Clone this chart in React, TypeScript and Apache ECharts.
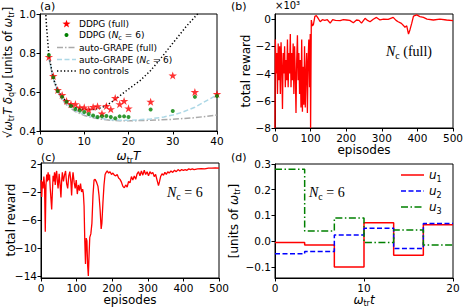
import React, { useEffect, useRef } from 'react';
import * as echarts from 'echarts';

// ---------- Panel (a) ----------
const A_T_DDPG = [2, 3, 4, 5, 6, 7, 8, 9, 10, 11, 12, 13, 14, 15, 16, 17, 18, 19, 20, 25, 30, 35, 40];
const A_DDPG_FULL = [0.78, 0.682, 0.61, 0.585, 0.554, 0.538, 0.538, 0.521, 0.521, 0.51, 0.523, 0.527, 0.49, 0.528, 0.512, 0.569, 0.538, 0.554, 0.516, 0.55, 0.685, 0.6, 0.59];
const A_DDPG_NC6 = [0.79, 0.675, 0.605, 0.575, 0.55, 0.528, 0.513, 0.505, 0.497, 0.487, 0.479, 0.472, 0.476, 0.477, 0.472, 0.465, 0.475, 0.475, 0.472, 0.51, 0.503, 0.575, 0.58];
const A_T_GRAPE_FULL = [2, 3, 4, 5, 6, 7, 8, 10, 12, 14, 16, 18, 20, 25, 30, 35, 40];
const A_GRAPE_FULL = [0.775, 0.665, 0.6, 0.56, 0.535, 0.515, 0.5, 0.48, 0.468, 0.46, 0.455, 0.452, 0.452, 0.455, 0.46, 0.468, 0.482];
const A_T_GRAPE_NC6 = [2, 3, 4, 5, 6, 7, 8, 10, 12, 14, 16, 18, 20, 22, 25, 28, 30, 32, 35, 38, 40];
const A_GRAPE_NC6 = [0.78, 0.67, 0.605, 0.565, 0.54, 0.52, 0.505, 0.485, 0.472, 0.464, 0.458, 0.455, 0.455, 0.457, 0.462, 0.472, 0.482, 0.495, 0.522, 0.56, 0.585];
const A_T_NOCTRL = [1, 1.5, 2, 3, 4, 5, 6, 8, 10, 12, 14, 16, 18, 20, 22.6, 25, 27, 30, 33, 35.6, 37];
const A_NOCTRL = [1.12, 0.93, 0.79, 0.67, 0.61, 0.575, 0.55, 0.52, 0.51, 0.51, 0.52, 0.545, 0.58, 0.615, 0.658, 0.71, 0.764, 0.85, 0.935, 1.0, 1.04];
const A_X_TICKS = [0, 10, 20, 30, 40];
const A_Y_TICKS = [0.4, 0.6, 0.8, 1.0];

// ---------- Panel (b) (units of 10^3) ----------
const B_EP = [0, 1, 3, 5, 7, 9, 11, 13, 15, 17, 19, 21, 23, 25, 27, 29, 31, 33, 35, 37, 39, 41, 43, 45, 47, 49, 51, 53, 55, 57, 59, 61, 63, 65, 67, 69, 71, 73, 75, 77, 79, 81, 83, 85, 87, 89, 91, 93, 95, 97, 99, 100, 102, 105, 108, 112, 116, 120, 127, 133, 140, 147, 155, 162, 170, 183, 192, 201, 210, 220, 229, 236, 243, 253, 260, 267, 276, 285, 295, 305, 318, 325, 332, 340, 346, 355, 360, 365, 370, 375, 379, 384, 389, 398, 407, 417, 427, 445, 463, 482, 500];
const B_VAL = [-8, -1.5, -4, -2.5, -5.5, -1.8, -4.5, -2, -5.5, -1.7, -3.5, -6.6, -2.5, -4, -2, -5, -3, -4.5, -1.5, -5, -2.5, -4, -1.1, -5, -2.5, -4.5, -1.8, -5.5, -2, -4, -6.9, -3, -1.2, -4.5, -2.5, -5.5, -3, -6.5, -1.5, -6.8, -3.5, -6.3, -2, -6.5, -4, -2.5, -6.9, -3, -1.5, -5, -1.1, -8, -0.07, -0.5, -0.4, 0.2, 0.25, 0.1, -0.2, -0.05, -0.1, -0.05, -0.3, -0.05, -0.1, -0.12, -0.05, -0.07, -0.1, -0.27, -0.07, -0.1, -0.3, 0.05, -0.1, -0.2, -0.02, 0.12, -0.07, 0.0, -0.02, 0.05, 0.12, -0.1, -0.2, -0.32, -0.45, -0.6, -0.5, -1.1, -0.8, -0.32, 0.22, 0.3, 0.18, 0.12, 0.0, -0.07, 0.0, -0.07, -0.12];
const B_X_TICKS = [0, 100, 200, 300, 400, 500];
const B_Y_TICKS = [-8, -6, -4, -2, 0];

// ---------- Panel (c) ----------
const C_EP = [0, 2, 4, 6, 8, 10, 12, 14, 16, 18, 20, 22, 24, 26, 28, 30, 32, 34, 36, 38, 40, 42, 44, 46, 48, 51, 54, 56, 58, 60, 63, 66, 69, 72, 75, 78, 81, 84, 86, 88, 90, 93, 96, 99, 102, 105, 108, 111, 114, 117, 119, 121, 123, 125, 127, 129, 131, 133, 135, 137, 140, 143, 146, 149, 152, 156, 160, 163, 166, 169, 171, 174, 177, 180, 183, 186, 190, 194, 198, 202, 206, 210, 214, 218, 222, 226, 230, 234, 238, 242, 246, 250, 254, 258, 262, 266, 270, 274, 278, 282, 286, 290, 294, 298, 302, 306, 310, 314, 318, 322, 326, 330, 333, 336, 340, 344, 348, 352, 356, 360, 365, 370, 375, 380, 385, 390, 395, 400, 405, 410, 415, 420, 425, 430, 440, 450, 460, 470, 480, 490, 500];
const C_VAL = [-0.3, -2.7, -0.5, -1.5, 0.2, -1.0, -7.7, -1.0, 0.5, -0.5, 0.8, -0.3, 0.5, -1.5, -3.0, -4.5, -2.0, 0.3, -0.5, 0.8, -1.0, 0.5, 1.0, -0.5, -1.5, 0.6, -1.2, -2.8, -0.4, 0.8, -0.5, 0.4, 1.0, -0.8, -1.5, 0.3, 0.9, -0.6, -2.5, -0.2, 0.8, -0.6, -1.5, -0.3, -2.3, -1.0, -1.8, -0.8, -2.0, -1.6, -2.2, -4.0, -9.0, -12.3, -8.6, -9.0, -12.5, -14.0, -11.0, -8.5, -8.0, -6.5, -2.5, -0.3, -0.2, -0.6, -1.2, -2.5, -4.5, -7.3, -6.5, -3.5, -1.0, 0.5, 0.8, 1.0, 0.7, 0.9, 0.5, 0.7, 0.4, 0.3, 0.5, 0.0, -0.2, -0.6, -1.2, -1.4, -1.0, -1.3, -0.5, -0.7, 0.2, -0.3, 0.3, -0.2, 0.6, 0.9, 0.3, 1.0, 0.4, 1.1, 0.5, 0.9, 0.3, 0.9, 0.6, 0.8, 0.2, 0.5, -0.3, -1.1, -0.5, 0.2, 0.6, 0.4, 0.8, 0.5, 0.9, 0.7, 1.0, 0.8, 1.1, 0.9, 1.2, 1.0, 1.2, 1.1, 1.2, 1.1, 1.3, 1.2, 1.3, 1.2, 1.3, 1.35, 1.3, 1.4, 1.4, 1.45, 1.4];
const C_X_TICKS = [0, 100, 200, 300, 400, 500];
const C_Y_TICKS = [-14, -10, -6, -2, 2];

// ---------- Panel (d) ----------
const D_T = [0, 3.333, 6.667, 10, 13.333, 16.667, 20];
const D_U1 = [-0.005, -0.015, -0.1, 0.072, -0.055, 0.064, 0.064];
const D_U2 = [-0.049, -0.04, 0.024, 0.05, -0.028, 0.069, 0.069];
const D_U3 = [0.28, 0.04, 0.09, -0.005, 0.044, -0.015, -0.015];
const D_X_TICKS = [0, 10, 20];
const D_Y_TICKS = [-0.1, 0, 0.1, 0.2, 0.3];

const FONT = 'DejaVu Sans';
const SERIF = 'Liberation Serif';
const STAR = 'path://M50,0 L61.2,34.5 L97.6,34.5 L68.2,55.9 L79.4,90.5 L50,69.1 L20.6,90.5 L31.8,55.9 L2.4,34.5 L38.8,34.5 Z';

const RED = '#ff0000';
const GREEN = '#008000';
const BLUE = '#0000ff';
const GRAY = '#aaaaaa';
const LIGHTBLUE = '#add8e6';

const DASH_GRAPE_FULL = [6, 2, 1.5, 2];
const DASH_GRAPE_NC6 = [5, 2.5];
const DOT = [1.3, 2.2];
const DASH_U2 = [5, 2.5];
const DASH_U3 = [7, 2.5, 1.5, 2.5];

const zip = (xs: number[], ys: number[]) => xs.map((x, i) => [x, ys[i]]);
const minus = (s: string) => s.replace('-', '\u2212');

const sub = { fontFamily: FONT, fontSize: 8, verticalAlign: 'bottom', lineHeight: 8 } as any;

function axisCommon(grid: number, min: number, max: number, ticks: number[], fmt: (v: number) => string, name: string, nameGap: number, rich: any, isY: boolean) {
  return {
    type: 'value',
    gridIndex: grid,
    min,
    max,
    name,
    nameLocation: 'middle',
    nameGap,
    nameRotate: isY ? 90 : 0,
    nameTextStyle: { fontFamily: FONT, fontSize: 12, color: '#000', rich },
    axisLine: { show: true, onZero: false, lineStyle: { color: '#000', width: 1 } },
    axisTick: { show: true, length: 3.5, customValues: ticks, lineStyle: { color: '#000' } },
    axisLabel: { show: true, customValues: ticks, formatter: (v: number) => fmt(v), fontFamily: FONT, fontSize: 10.5, color: '#000', margin: 4 },
    splitLine: { show: false },
  };
}

function starPoints(cx: number, cy: number, r: number) {
  const pts: number[][] = [];
  for (let k = 0; k < 10; k++) {
    const rr = k % 2 === 0 ? r : r * 0.4;
    const a = -Math.PI / 2 + (k * Math.PI) / 5;
    pts.push([cx + rr * Math.cos(a), cy + rr * Math.sin(a)]);
  }
  return pts;
}

export default function App() {
  const ref = useRef<HTMLDivElement>(null);
  useEffect(() => {
    if (!ref.current) return;
    const chart = echarts.init(ref.current, undefined, { renderer: 'svg' });
    const mathRich = {
      m: { fontFamily: FONT, fontSize: 12, fontStyle: 'italic', lineHeight: 16 },
      r: { fontFamily: FONT, fontSize: 12, lineHeight: 16 },
      s: sub,
    };
    const mathRichY = {
      m: { fontFamily: FONT, fontSize: 11.5, fontStyle: 'italic', lineHeight: 15 },
      r: { fontFamily: FONT, fontSize: 11.5, lineHeight: 15 },
      s: { fontFamily: FONT, fontSize: 8, verticalAlign: 'bottom', lineHeight: 8 },
    };
    const grids = [
      { left: 40, top: 14, width: 177, height: 117 },
      { left: 275, top: 14, width: 178, height: 114 },
      { left: 41, top: 163, width: 178, height: 115 },
      { left: 275, top: 164, width: 178, height: 114 },
    ].map((g) => ({ ...g, show: true, borderColor: '#000', borderWidth: 1, backgroundColor: '#fff', outerBoundsMode: 'none', containLabel: false }));

    const intFmt = (v: number) => minus(String(Math.round(v)));
    const f1 = (v: number) => minus(v.toFixed(1));

    const legRich = {
      n: { fontFamily: FONT, fontSize: 9, lineHeight: 12 },
      i: { fontFamily: FONT, fontSize: 9, fontStyle: 'italic', lineHeight: 12 },
      s: { fontFamily: FONT, fontSize: 6.5, verticalAlign: 'bottom', lineHeight: 7 },
    };
    const legA = [
      { y: 24, text: '{n|DDPG (full)}', kind: 'star' },
      { y: 35, text: '{n|DDPG (}{i|N}{s|c}{n| = 6)}', kind: 'dot' },
      { y: 47.5, text: '{n|auto-GRAPE (full)}', kind: 'line', color: GRAY, dash: DASH_GRAPE_FULL },
      { y: 59.5, text: '{n|auto-GRAPE (}{i|N}{s|c}{n| = 6)}', kind: 'line', color: LIGHTBLUE, dash: DASH_GRAPE_NC6 },
      { y: 71, text: '{n|no controls}', kind: 'line', color: '#000', dash: DOT },
    ];
    const legendA: any[] = [];
    legA.forEach((it: any) => {
      if (it.kind === 'star') legendA.push({ type: 'polygon', shape: { points: starPoints(66.5, it.y, 4.3) }, style: { fill: RED } });
      else if (it.kind === 'dot') legendA.push({ type: 'circle', shape: { cx: 66.5, cy: it.y, r: 2 }, style: { fill: GREEN } });
      else legendA.push({ type: 'line', shape: { x1: 57, y1: it.y, x2: 76, y2: it.y }, style: { stroke: it.color, lineWidth: 1.5, lineDash: it.dash } });
      legendA.push({ type: 'text', x: 79, y: it.y, style: { text: it.text, verticalAlign: 'middle', fill: '#000', rich: legRich } });
    });
    const dRich = {
      u: { fontFamily: FONT, fontSize: 12, fontStyle: 'italic', lineHeight: 16 },
      s: { fontFamily: FONT, fontSize: 8, verticalAlign: 'bottom', lineHeight: 8 },
    };
    const legD = [
      { y: 175, text: '{u|u}{s|1}', color: RED, dash: null },
      { y: 191, text: '{u|u}{s|2}', color: BLUE, dash: DASH_U2 },
      { y: 207, text: '{u|u}{s|3}', color: GREEN, dash: DASH_U3 },
    ];
    const legendD: any[] = [];
    legD.forEach((it: any) => {
      legendD.push({ type: 'line', shape: { x1: 401, y1: it.y, x2: 424, y2: it.y }, style: { stroke: it.color, lineWidth: 1.5, lineDash: it.dash } });
      legendD.push({ type: 'text', x: 429, y: it.y, style: { text: it.text, verticalAlign: 'middle', fill: '#000', rich: dRich } });
    });

    const ncRich = {
      i: { fontFamily: SERIF, fontSize: 14, fontStyle: 'italic', lineHeight: 18 },
      r: { fontFamily: SERIF, fontSize: 14, lineHeight: 18 },
      s: { fontFamily: SERIF, fontSize: 10, verticalAlign: 'bottom', lineHeight: 10 },
    };

    const option: any = {
      animation: false,
      backgroundColor: '#fff',
      grid: grids,
      xAxis: [
        axisCommon(0, 0, 40, A_X_TICKS, intFmt, '{m|ω}{s|tr}{m|T}', 17, mathRich, false),
        axisCommon(1, 0, 500, B_X_TICKS, intFmt, 'episodes', 15, undefined, false),
        axisCommon(2, 0, 500, C_X_TICKS, intFmt, 'episodes', 14, undefined, false),
        axisCommon(3, 0, 20, D_X_TICKS, intFmt, '{m|ω}{s|tr}{m|t}', 12, mathRich, false),
      ],
      yAxis: [
        axisCommon(0, 0.4, 1.0, A_Y_TICKS, f1, '{r|√}{m|ω}{s|tr}{m|T δ}{s|q}{m|ω} {r|[units of }{m|ω}{s|tr}{r|]}', 24, mathRichY, true),
        axisCommon(1, -8, 0.37, B_Y_TICKS, intFmt, 'total reward', 20, undefined, true),
        axisCommon(2, -14.3, 2.14, C_Y_TICKS, intFmt, '', 20, undefined, true),
        axisCommon(3, -0.143, 0.3, D_Y_TICKS, f1, '{r|[units of }{m|ω}{s|tr}{r|]}', 24, mathRich, true),
      ],
      series: [
        { name: 'auto-GRAPE (full)', type: 'line', xAxisIndex: 0, yAxisIndex: 0, data: zip(A_T_GRAPE_FULL, A_GRAPE_FULL), symbol: 'none', lineStyle: { color: GRAY, width: 1.5, type: DASH_GRAPE_FULL }, z: 2 },
        { name: 'auto-GRAPE (Nc6)', type: 'line', xAxisIndex: 0, yAxisIndex: 0, data: zip(A_T_GRAPE_NC6, A_GRAPE_NC6), symbol: 'none', lineStyle: { color: LIGHTBLUE, width: 1.5, type: DASH_GRAPE_NC6 }, z: 2 },
        { name: 'no controls', type: 'line', xAxisIndex: 0, yAxisIndex: 0, data: zip(A_T_NOCTRL, A_NOCTRL), symbol: 'none', clip: true, lineStyle: { color: '#000', width: 1.5, type: DOT }, z: 2 },
        { name: 'DDPG (full)', type: 'scatter', xAxisIndex: 0, yAxisIndex: 0, data: zip(A_T_DDPG, A_DDPG_FULL), symbol: STAR, symbolSize: 8.5, symbolKeepAspect: true, itemStyle: { color: RED }, z: 4 },
        { name: 'DDPG (Nc6)', type: 'scatter', xAxisIndex: 0, yAxisIndex: 0, data: zip(A_T_DDPG, A_DDPG_NC6), symbol: 'circle', symbolSize: 4, itemStyle: { color: GREEN }, z: 4 },
        { name: 'reward full', type: 'line', xAxisIndex: 1, yAxisIndex: 1, data: zip(B_EP, B_VAL), symbol: 'none', lineStyle: { color: RED, width: 1.3 }, clip: true },
        { name: 'reward nc6', type: 'line', xAxisIndex: 2, yAxisIndex: 2, data: zip(C_EP, C_VAL), symbol: 'none', lineStyle: { color: RED, width: 1.3 }, clip: true },
        { name: 'u1', type: 'line', step: 'end', xAxisIndex: 3, yAxisIndex: 3, data: zip(D_T, D_U1), symbol: 'none', lineStyle: { color: RED, width: 1.5 } },
        { name: 'u2', type: 'line', step: 'end', xAxisIndex: 3, yAxisIndex: 3, data: zip(D_T, D_U2), symbol: 'none', lineStyle: { color: BLUE, width: 1.5, type: DASH_U2 } },
        { name: 'u3', type: 'line', step: 'end', xAxisIndex: 3, yAxisIndex: 3, data: zip(D_T, D_U3), symbol: 'none', lineStyle: { color: GREEN, width: 1.5, type: DASH_U3 } },
      ],
      graphic: [
        { type: 'text', left: 40, top: 1, style: { text: '(a)', font: `11px "${FONT}"`, fill: '#000' } },
        { type: 'text', left: 231, top: 1, style: { text: '(b)', font: `11px "${FONT}"`, fill: '#000' } },
        { type: 'text', left: 41, top: 152, style: { text: '(c)', font: `11px "${FONT}"`, fill: '#000' } },
        { type: 'text', left: 231, top: 152, style: { text: '(d)', font: `11px "${FONT}"`, fill: '#000' } },
        { type: 'text', left: 275, top: 0, style: { text: '×10³', font: `10px "${FONT}"`, fill: '#000' } },
        { type: 'text', x: 11, y: 220, rotation: Math.PI / 2, style: { text: 'total reward', font: `12px "${FONT}"`, fill: '#000', align: 'center', verticalAlign: 'middle' } },
        { type: 'text', left: 386, top: 44, style: { text: '{i|N}{s|c}{r| (full)}', fill: '#000', rich: ncRich } },
        { type: 'text', left: 167, top: 185, style: { text: '{i|N}{s|c}{r| = 6}', fill: '#000', rich: ncRich } },
        { type: 'text', left: 309, top: 185, style: { text: '{i|N}{s|c}{r| = 6}', fill: '#000', rich: ncRich } },
        ...legendA,
        ...legendD,
      ],
    };
    chart.setOption(option);
    return () => chart.dispose();
  }, []);
  return <div ref={ref} style={{ position: 'absolute', left: 0, top: 0, width: 463, height: 307, background: '#fff' }} />;
}
